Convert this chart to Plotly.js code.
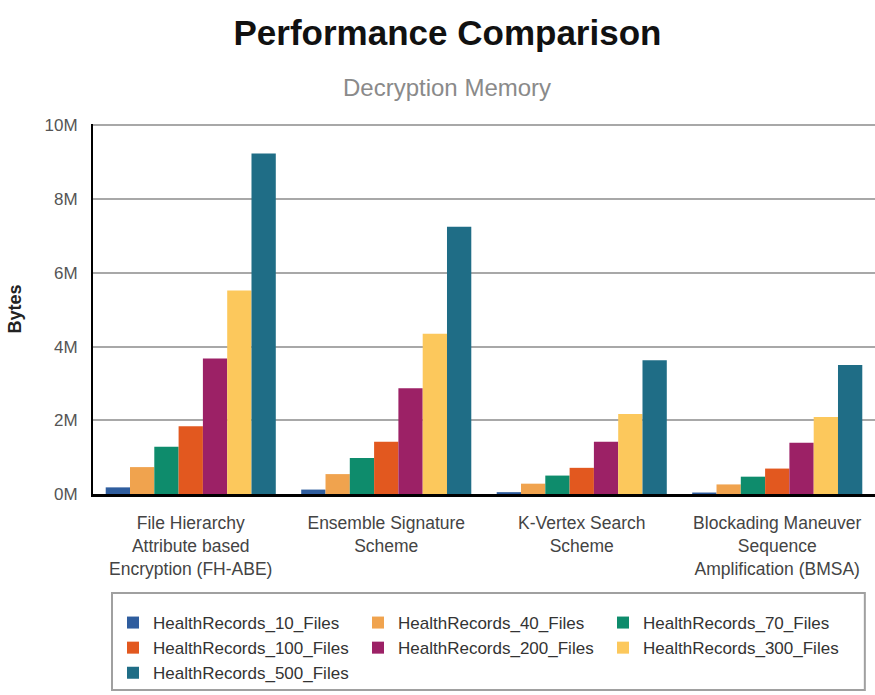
<!DOCTYPE html>
<html>
<head>
<meta charset="utf-8">
<script src="https://cdn.plot.ly/plotly-3.0.1.min.js"></script>
<style>
  html, body { margin: 0; padding: 0; background: #ffffff; }
  #chart { width: 875px; height: 695px; }
</style>
</head>
<body>
<div id="chart"></div>
<script>
// Schemes compared (x categories)
const schemes = [
  'File Hierarchy<br>Attribute based<br>Encryption (FH-ABE)',
  'Ensemble Signature<br>Scheme',
  'K-Vertex Search<br>Scheme',
  'Blockading Maneuver<br>Sequence<br>Amplification (BMSA)'
];

// Decryption memory in bytes, one array per data-set size
const files10  = [180000, 120000, 50000, 40000];
const files40  = [730000, 540000, 280000, 260000];
const files70  = [1280000, 980000, 500000, 470000];
const files100 = [1840000, 1420000, 710000, 690000];
const files200 = [3680000, 2870000, 1420000, 1390000];
const files300 = [5520000, 4350000, 2170000, 2090000];
const files500 = [9240000, 7250000, 3630000, 3500000];

const seriesNames = [
  'HealthRecords_10_Files', 'HealthRecords_40_Files', 'HealthRecords_70_Files',
  'HealthRecords_100_Files', 'HealthRecords_200_Files', 'HealthRecords_300_Files',
  'HealthRecords_500_Files'
];
const seriesValues = [files10, files40, files70, files100, files200, files300, files500];
const seriesColors = ['#2f5d9e', '#f0a34e', '#0e8c6c', '#e2581f', '#9c2166', '#fcc85c', '#1f6d86'];
// Legend column that lists each series (three columns, filled row by row)
const legendColumn = ['legend', 'legend2', 'legend3', 'legend', 'legend2', 'legend3', 'legend'];

const yTickVals = [0, 2000000, 4000000, 6000000, 8000000, 10000000];
const yTickText = ['0M', '2M', '4M', '6M', '8M', '10M'];

const traces = seriesNames.map((name, i) => ({
  type: 'bar',
  name: name,
  x: schemes,
  y: seriesValues[i],
  legend: legendColumn[i],
  legendgroup: 'g' + i,
  marker: { color: seriesColors[i], line: { width: 0 } },
  hoverinfo: 'name+y'
}));

const font = 'Arial, "Liberation Sans", Helvetica, sans-serif';

// One borderless vertical legend per column; the frame around them is a shape
function legendColumnLayout(x) {
  return {
    orientation: 'v',
    x: x, xanchor: 'left',
    y: -0.3, yanchor: 'top',
    bgcolor: 'rgba(0,0,0,0)',
    borderwidth: 0,
    tracegroupgap: 2,
    traceorder: 'normal',
    font: { family: font, size: 17, color: '#333333' }
  };
}

const layout = {
  width: 875,
  height: 695,
  margin: { l: 93, r: 0, t: 124, b: 201 },
  paper_bgcolor: '#ffffff',
  plot_bgcolor: '#ffffff',
  font: { family: font, color: '#444444' },
  barmode: 'group',
  bargap: 0.13,
  bargroupgap: 0,
  title: {
    text: '<b>Performance Comparison</b>',
    font: { family: font, size: 35, color: '#111111' },
    x: 0.5114, xanchor: 'center',
    y: 0.9525, yanchor: 'middle'
  },
  annotations: [{
    text: 'Decryption Memory',
    xref: 'paper', yref: 'paper',
    x: 0.4533, y: 1.0, yshift: 37,
    xanchor: 'center', yanchor: 'middle',
    showarrow: false,
    font: { family: font, size: 24, color: '#8a8a8a' }
  }],
  shapes: [{
    type: 'rect',
    xref: 'paper', yref: 'paper',
    x0: 0.0243, x1: 0.987,
    y0: -0.2676, y1: -0.5297,
    line: { color: '#a0a0a0', width: 2 },
    fillcolor: 'rgba(0,0,0,0)',
    layer: 'below'
  }],
  xaxis: {
    type: 'category',
    showgrid: false,
    showline: true,
    linecolor: '#000000',
    linewidth: 3,
    ticks: '',
    ticklabelstandoff: 11,
    tickfont: { family: font, size: 17.5, color: '#444444' },
    fixedrange: true
  },
  yaxis: {
    // a little headroom so the 10M grid line is kept at the top edge
    range: [0, 10040000],
    tickvals: yTickVals,
    ticktext: yTickText,
    showgrid: true,
    gridcolor: '#a8a8a8',
    gridwidth: 2,
    zeroline: false,
    showline: true,
    linecolor: '#000000',
    linewidth: 2,
    ticks: '',
    ticklabelstandoff: 10,
    tickfont: { family: font, size: 17, color: '#555555' },
    title: {
      text: '<b>Bytes</b>',
      font: { family: font, size: 18, color: '#222222' },
      standoff: 18
    },
    fixedrange: true
  },
  showlegend: true,
  legend: legendColumnLayout(0.0256),
  legend2: legendColumnLayout(0.3389),
  legend3: legendColumnLayout(0.6522)
};

Plotly.newPlot('chart', traces, layout, { displayModeBar: false, staticPlot: true });
</script>
</body>
</html>
